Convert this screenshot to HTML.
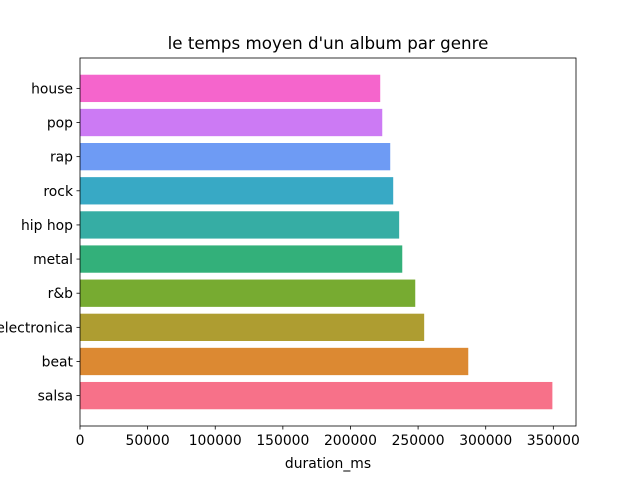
<!DOCTYPE html>
<html><head><meta charset="utf-8"><style>body{margin:0;background:#fff}svg{display:block}text{font-family:"DejaVu Sans","Liberation Sans",sans-serif;fill:#000}</style></head>
<body>
<svg id="chart" width="640" height="480">
<text x="328" y="49" font-size="16.7" text-anchor="middle">le temps moyen d'un album par genre</text>
<g id="bars"></g><g id="axes"></g>
<text x="328" y="468" font-size="13.9" text-anchor="middle">duration_ms</text>
</svg>
<script>
const categories=["salsa","beat","electronica","r&b","metal","hip hop","rock","rap","pop","house"];
const values=[349300,287100,254500,247900,238300,236000,231600,229400,223500,222000];
const colors=["#f77189","#dc8932","#ae9d31","#77ab31","#33b07a","#36ada4","#38a9c5","#6e9bf4","#cc7af4","#f565cc"];
const xTicks=[0,50000,100000,150000,200000,250000,300000,350000];
const L=80,R=576,T=58,B=426;
const xmax=Math.max(...values)*1.05;
const x=v=>L+v/xmax*(R-L);
const n=categories.length;
const lo=-0.4-0.05*(n-1+0.8),hi=n-1+0.4+0.05*(n-1+0.8);
const y=i=>B-(i-lo)/(hi-lo)*(B-T);
const ns="http://www.w3.org/2000/svg";
const bars=document.getElementById('bars'),axes=document.getElementById('axes');
function mk(tag,attrs,parent){const e=document.createElementNS(ns,tag);for(const k in attrs)e.setAttribute(k,attrs[k]);parent.appendChild(e);return e;}
categories.forEach((c,i)=>{
 const r=mk('rect',{x:x(0),y:y(i+0.4),width:x(values[i])-x(0),height:y(i-0.4)-y(i+0.4),fill:colors[i]},bars);
 
 
 mk('line',{x1:L-3.5,x2:L,y1:y(i),y2:y(i),stroke:'#000','stroke-width':0.8},axes);
 const t=mk('text',{x:L-7,y:y(i)+5,'font-size':13.9,'text-anchor':'end'},axes);
 t.textContent=c;
 
 
});
xTicks.forEach(v=>{
 mk('line',{x1:x(v),x2:x(v),y1:B,y2:B+3.5,stroke:'#000','stroke-width':0.8},axes);
 const t=mk('text',{x:x(v),y:B+19,'font-size':13.9,'text-anchor':'middle'},axes);
 t.textContent=v;
 
 
});
const f=mk('rect',{x:L,y:T,width:R-L,height:B-T,fill:'none',stroke:'#000','stroke-width':0.8},axes);


</script>
</body></html>
